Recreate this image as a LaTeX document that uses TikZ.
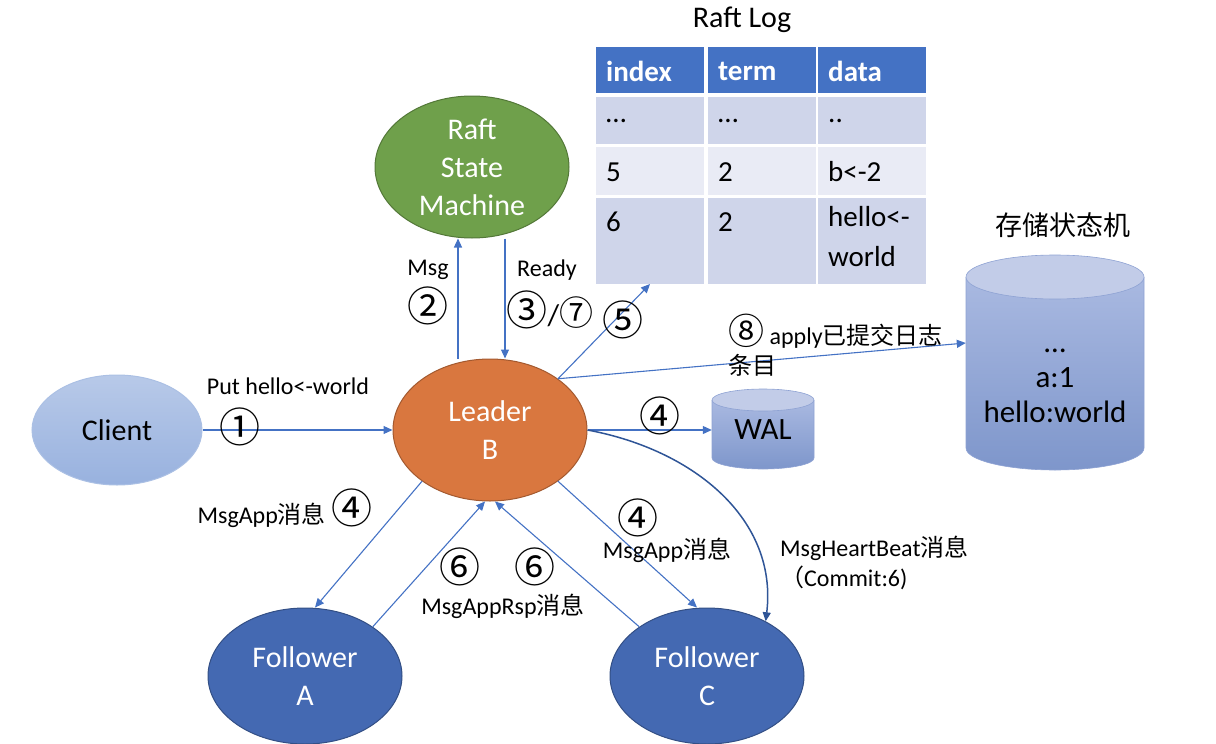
\documentclass[tikz,border=0pt]{standalone}
\usepackage{fontspec}
\setmainfont{Carlito}
\newfontfamily\cjk{Noto Sans CJK SC}
\usetikzlibrary{shapes.geometric,positioning,arrows.meta}

\definecolor{linkblue}{HTML}{4472C4}
\definecolor{beatblue}{HTML}{2F5597}
\definecolor{leaderorange}{HTML}{D9773F}
\definecolor{rsmgreen}{HTML}{6FA04B}
\definecolor{followerblue}{HTML}{4469B2}
\definecolor{rowdark}{HTML}{CFD5EA}
\definecolor{rowlight}{HTML}{E9EBF5}
\definecolor{cylTop}{HTML}{A9B9E1}
\definecolor{cylBot}{HTML}{7E96CB}
\definecolor{cylCap}{HTML}{C2CCE8}
\definecolor{cylEdge}{HTML}{8EA2D3}

% circled step numbers
\newcommand{\stepno}[1]{{\cjk\fontsize{41}{41}\selectfont #1}}
% cylinder: cx, cap y, bottom y, rx, ry
\newcommand{\drum}[5]{%
  \shade[top color=cylTop, bottom color=cylBot]
    (#1-#4,#2) -- (#1-#4,#3) arc[start angle=180, end angle=0, x radius=#4, y radius=#5] -- (#1+#4,#2) -- cycle;
  \draw[cylEdge, line width=0.6pt]
    (#1-#4,#2) -- (#1-#4,#3) arc[start angle=180, end angle=0, x radius=#4, y radius=#5] -- (#1+#4,#2);
  \filldraw[fill=cylCap, draw=cylEdge, line width=0.6pt] (#1,#2) ellipse[x radius=#4, y radius=#5];
}

\begin{document}
\begin{tikzpicture}[x=1pt, y=-1pt,
    arr/.style={draw=linkblue, line width=1.1pt, -{Triangle[length=9pt,width=8pt]}},
    blob/.style={ellipse, minimum width=194pt, minimum height=142pt, inner sep=0pt,
      align=center, text=white, line width=1pt, font=\fontsize{30}{38}\selectfont},
    lbl/.style={inner sep=0pt, font=\fontsize{24}{30}\selectfont},
    cell/.style={anchor=west, inner sep=0pt, font=\fontsize{29}{40}\selectfont}]
  \useasboundingbox (0,0) rectangle (1216,744);

  % the cylinders first
  \drum{763}{400}{458}{51}{11}
  \drum{1055}{277}{448}{89}{22}

  \node[blob, top color=linkblue!38, bottom color=linkblue!55, draw=linkblue!45,
    text=black, minimum width=170pt, minimum height=110pt] (client) at (117,430) {Client};
  \node[blob, fill=leaderorange, draw=leaderorange!75!black] (leader) at (490,430) {Leader\\B};
  \node[blob, fill=rsmgreen, draw=rsmgreen!75!black] (rsm) at (472,167) {Raft\\State\\Machine};
  \node[blob, fill=followerblue, draw=followerblue!75!black, minimum height=136pt] (fa) at (305,676) {Follower\\A};
  \node[blob, fill=followerblue, draw=followerblue!75!black, minimum height=136pt] (fc) at (707,676) {Follower\\C};
  \node[minimum width=102pt, minimum height=70pt, inner sep=0pt,
    font=\fontsize{31}{36}\selectfont] (wal) at (763,430) {WAL};
  \node[minimum width=178pt, minimum height=215pt, inner sep=0pt] (store) at (1055,362) {};
  \node[align=center, inner sep=0pt, font=\fontsize{31}{35}\selectfont] (kv) at (1055,386)
    {\dots\\a:1\\hello:world};
  \node[inner sep=0pt, font=\cjk\fontsize{27}{30}\selectfont] (kvtitle) at (1063,225) {存储状态机};

  % raft log table
  \node[inner sep=0pt, font=\fontsize{30}{32}\selectfont] (logtitle) at (742,20) {Raft Log};
  \foreach \x in {596,708,818} {
    \fill[linkblue] (\x,47) rectangle +(108,46);
    \fill[rowdark] (\x,97) rectangle +(108,47);
    \fill[rowlight] (\x,147) rectangle +(108,48);
    \fill[rowdark] (\x,198) rectangle +(108,86);
  }
  \node[cell, text=white, font=\bfseries\fontsize{29}{40}\selectfont] (h1) at (606,71) {index};
  \node[cell, text=white, font=\bfseries\fontsize{29}{40}\selectfont] (h2) at (718,71) {term};
  \node[cell, text=white, font=\bfseries\fontsize{29}{40}\selectfont] (h3) at (828,71) {data};
  \node[cell] (a1) at (606,121) {\dots};
  \node[cell] (a2) at (718,121) {\dots};
  \node[cell] (a3) at (828,121) {..};
  \node[cell] (b1) at (606,172) {5};
  \node[cell] (b2) at (718,172) {2};
  \node[cell] (b3) at (828,172) {b<-2};
  \node[cell] (c1) at (606,222) {6};
  \node[cell] (c2) at (718,222) {2};
  \node[cell, align=left, anchor=north west] (c3) at (828,206) {hello<-\\world};
  \coordinate (logfoot) at (650,284);

  % connectors
  \draw[arr] (client) -- (leader);
  \draw[arr] ([xshift=-32pt]leader.north) -- ([xshift=-14pt]rsm.south);
  \draw[arr] ([xshift=33pt]rsm.south) -- ([xshift=15pt]leader.north);
  \draw[arr] (leader.37) -- (logfoot);
  \draw[arr] (leader.37) -- ([yshift=19pt]store.west);
  \draw[arr] (leader) -- (wal);
  \draw[arr] (leader.217) -- ([xshift=10pt]fa.north);
  \draw[arr] (fa.36) -- ([xshift=-5pt]leader.south);
  \draw[arr] (fc.144) -- ([xshift=5pt]leader.south);
  \draw[arr] (leader.323) -- ([xshift=-10pt]fc.north);
  \draw[arr, draw=beatblue, line width=1.5pt]
    (leader.east) .. controls (695,450) and (778,520) .. (fc.43);

  % labels
  \node[lbl] (l1) at (288,386) {Put hello<-world};
  \node[inner sep=0pt] (n1) at (240,427) {\stepno{①}};
  \node[lbl] (l2) at (428,270) {Msg};
  \node[inner sep=0pt] (n2) at (428,306) {\stepno{②}};
  \node[lbl] (l3) at (547,270) {Ready};
  \node[inner sep=0pt] (n3) at (550,310) {\stepno{③}{\fontsize{30}{30}\selectfont/}{\cjk\fontsize{34}{34}\selectfont ⑦}};
  \node[inner sep=0pt] (n5) at (623,320) {\stepno{⑤}};
  \node[lbl, anchor=west, align=left] (l8) at (728,345)
    {{\cjk\fontsize{36}{30}\selectfont ⑧} apply{\cjk 已提交日志}\\{\cjk 条目}};
  \node[inner sep=0pt] (n4w) at (660,416) {\stepno{④}};
  \node[lbl] (l4a) at (285,508) {MsgApp{\cjk 消息} \stepno{④}};
  \node[inner sep=0pt] (n6a) at (460,567) {\stepno{⑥}};
  \node[inner sep=0pt] (n6c) at (535,567) {\stepno{⑥}};
  \node[lbl] (l6) at (503,606) {MsgAppRsp{\cjk 消息}};
  \node[inner sep=0pt] (n4c) at (638,518) {\stepno{④}};
  \node[lbl] (l4c) at (667,550) {MsgApp{\cjk 消息}};
  \node[lbl, anchor=west, align=left] (lhb) at (780,563)
    {MsgHeartBeat{\cjk 消息}\\{\cjk （}Commit:6)};
\end{tikzpicture}
\end{document}
